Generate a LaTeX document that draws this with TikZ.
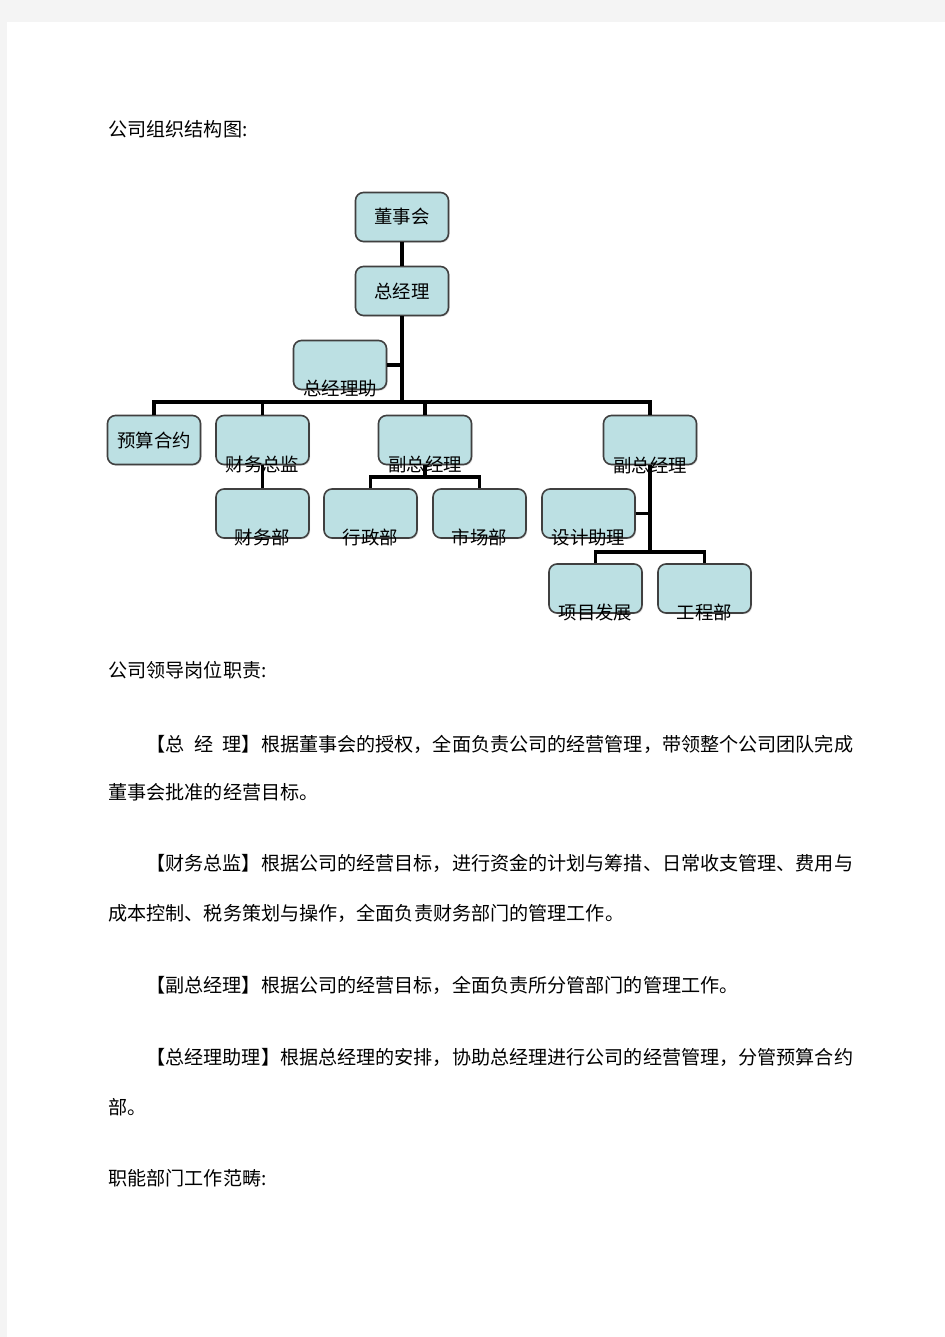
\documentclass[tikz,border=0pt]{standalone}
\usepackage{fontspec}
\newfontfamily\cjk{Noto Sans CJK SC}
\usetikzlibrary{shadows}
\definecolor{boxfill}{HTML}{BCE0E3}
\definecolor{boxline}{HTML}{404040}
\definecolor{pagebg}{HTML}{F4F4F4}

\begin{document}
\begin{tikzpicture}
  [x=0.5pt,y=-0.5pt,
   box/.style={rectangle,rounded corners=4pt,draw=boxline,line width=0.8pt,fill=boxfill,
     minimum width=46.5pt,minimum height=24.5pt,inner sep=0pt,
     drop shadow={shadow xshift=0.6pt,shadow yshift=-0.6pt,opacity=0.25},
     font=\cjk\fontsize{9.2pt}{11pt}\selectfont},
   lbl/.style={inner sep=0pt,font=\cjk\fontsize{9.2pt}{11pt}\selectfont},
   txt/.style={anchor=base west,inner sep=0pt,font=\cjk\fontsize{9.55pt}{11pt}\selectfont},
   vh/.style={to path={|- (\tikztotarget)}},
   hv/.style={to path={-| (\tikztotarget)}}]
  % page
  \useasboundingbox (0,0) rectangle (945,1337);
  \fill[pagebg] (0,0) rectangle (945,1337);
  \fill[white] (7,22) rectangle (945,1337);

  % chart boxes
  \node[box] (n1) at (402,217) {董事会};
  \node[box] (n2) at (402,291) {总经理};
  \node[box] (n3) at (340,365) {};
  \node[box] (n4) at (154,440) {预算合约};
  \node[box] (n5) at (262.5,440) {};
  \node[box] (n6) at (425,440) {};
  \node[box] (n7) at (650,440) {};
  \node[box] (n8) at (262.5,513.5) {};
  \node[box] (n9) at (370.5,513.5) {};
  \node[box] (n10) at (479.5,513.5) {};
  \node[box] (n11) at (588.5,513.5) {};
  \node[box] (n12) at (595.5,588.5) {};
  \node[box] (n13) at (704.5,588.5) {};
  \coordinate (b1) at (402,402);
  \coordinate (b2) at (425,477);
  \coordinate (b3) at (650,552);

 \path[-,draw,line width=1.9pt]
    (n1) edge (n2)
    (n2) edge (b1)
    (n3) edge (n3 -| n2)
    (n4.north) edge [vh] (b1)
    (b1) edge [hv] (n7.north)
    (n5) edge (n5 |- b1)
    (n6) edge (n6 |- b1)
    (n5) edge (n8)
    (n6) edge (b2)
    (n9.north) edge [vh] (b2)
    (b2) edge [hv] (n10.north)
    (n7) edge (b3)
    (n11) edge (n11 -| n7)
    (n12.north) edge [vh] (b3)
    (b3) edge [hv] (n13.north)
    ;

  % labels sitting on the bottom edge
  \node[lbl] (l3) at ([yshift=0.8pt]n3.south) {总经理助};
  \node[lbl] (l5) at ([yshift=0.5pt]n5.south) {财务总监};
  \node[lbl] (l6) at ([yshift=0.5pt]n6.south) {副总经理};
  \node[lbl] (l7) at ([yshift=0pt]n7.south) {副总经理};
  \node[lbl] (l8) at ([yshift=0.5pt]n8.south) {财务部};
  \node[lbl] (l9) at ([yshift=0.5pt]n9.south) {行政部};
  \node[lbl] (l10) at ([yshift=0.5pt]n10.south) {市场部};
  \node[lbl] (l11) at ([yshift=0.5pt]n11.south) {设计助理};
  \node[lbl] (l12) at ([yshift=0.8pt]n12.south) {项目发展};
  \node[lbl] (l13) at ([yshift=0.8pt]n13.south) {工程部};

  % page text
  \node[txt] (h1) at (108,137) {公司组织结构图:};
  \node[txt] (h2) at (108,677) {公司领导岗位职责:};
  \node[txt] (p1a) at (146,751) {【总\hspace{0.5em}经\hspace{0.5em}理】根据董事会的授权，全面负责公司的经营管理，带领整个公司团队完成};
  \node[txt] (p1b) at (108,799) {董事会批准的经营目标。};
  \node[txt] (p2a) at (146,870) {【财务总监】根据公司的经营目标，进行资金的计划与筹措、日常收支管理、费用与};
  \node[txt] (p2b) at (108,920) {成本控制、税务策划与操作，全面负责财务部门的管理工作。};
  \node[txt] (p3a) at (146,992) {【副总经理】根据公司的经营目标，全面负责所分管部门的管理工作。};
  \node[txt] (p4a) at (146,1064) {【总经理助理】根据总经理的安排，协助总经理进行公司的经营管理，分管预算合约};
  \node[txt] (p4b) at (108,1114) {部。};
  \node[txt] (h3) at (108,1185) {职能部门工作范畴:};

\end{tikzpicture}
\end{document}
